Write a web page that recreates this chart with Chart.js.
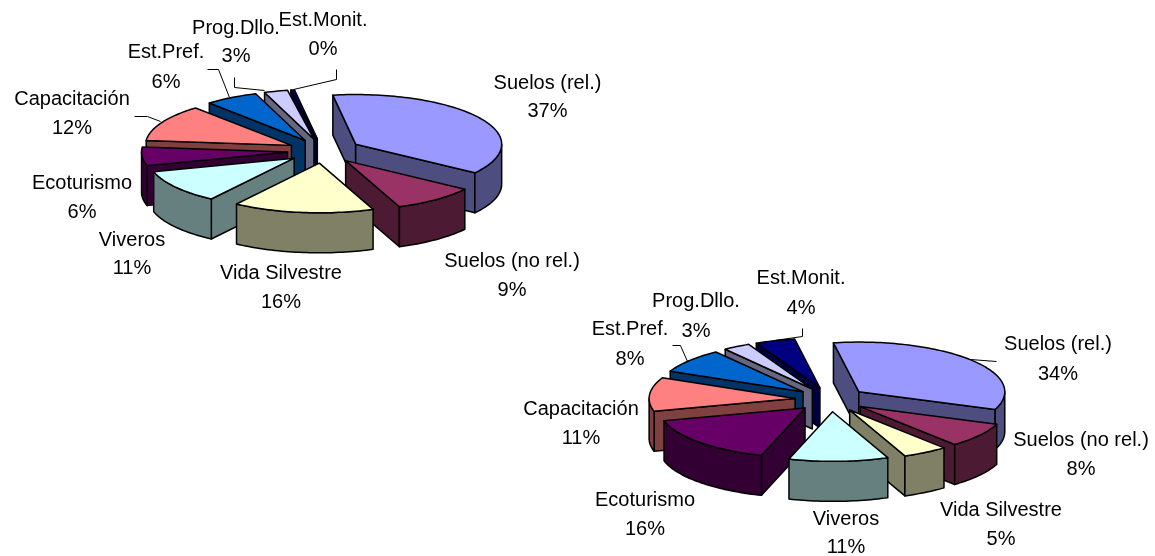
<!DOCTYPE html>
<html>
<head>
<meta charset="utf-8">
<style>
html,body{margin:0;padding:0;background:#fff;width:1155px;height:556px;overflow:hidden}
canvas{position:absolute;left:0;top:0}
</style>
<script src="https://cdn.jsdelivr.net/npm/chart.js@4/dist/chart.umd.min.js"></script>
</head>
<body>
<canvas id="a" width="1155" height="556"></canvas>
<canvas id="b" width="1155" height="556"></canvas>
<script>
const categories = ["Suelos (rel.)","Suelos (no rel.)","Vida Silvestre","Viveros","Ecoturismo","Capacitación","Est.Pref.","Prog.Dllo.","Est.Monit."];
const valuesLeft  = [37.3,9.2,15.6,11,6,12,5.9,2.6,0.4];
const valuesRight = [33.6,8,5,11,16,11,8,3,4.4];
const topColors  = ["#9999FF","#993366","#FFFFCC","#CCFFFF","#660066","#FF8080","#0066CC","#CCCCFF","#000080"];
const sideColors = ["#4D4D80","#4D1A33","#808066","#668080","#330033","#804040","#003366","#666680","#000040"];

// label centres [x, first line y, second line y], same order as categories
const labelsLeft  = [[547.5,83,111],[512,261,290],[281,273,302],[132,240,268],[82,183,212],[72,99,128],[166,52,82],[236,28,56],[323,20,49]];
const labelsRight = [[1058,344,374],[1081,440,469],[1001,510,539],[846,519,547],[645,500,529],[581,409,438],[630,329,359],[696,301,331],[801,278,308]];
const leadersLeft  = [[[207,69],[218,69],[229,97]],[[134,116],[147,116],[160,121]],[[234,77],[234,87],[264,90]],[[336,69],[336,79],[293,89]]];
const leadersRight = [[[802,328],[802,336],[774,340]],[[672,345],[680,345],[687,361]],[[996,361],[970,359]]];

const SQUASH = 0.34, DEPTH = 40, RADIUS = 146;
const FONT = '20px "Liberation Sans", Arial, sans-serif';

function pie3d(labelPos, leaders){
  return {
    id:'pie3d',
    beforeDatasetDraw(chart, args){
      const ctx = chart.ctx;
      const arcs = chart.getDatasetMeta(args.index).data.map((arc,i)=>({arc,i}));
      const midOf = a => (a.startAngle+a.endAngle)/2;
      arcs.sort((p,q)=>Math.sin(midOf(p.arc))-Math.sin(midOf(q.arc)));
      ctx.save();
      ctx.lineWidth = 1.5;
      ctx.lineJoin = 'round';
      ctx.strokeStyle = '#000';
      for(const {arc,i} of arcs){
        const {x,y,startAngle:a0,endAngle:a1,outerRadius:R} = arc;
        const mid = midOf(arc), off = arc.options.offset;
        const ax = x+Math.cos(mid)*off, ay = y+Math.sin(mid)*off*SQUASH;
        const rim = (a,z)=>[ax+Math.cos(a)*R, ay+Math.sin(a)*R*SQUASH+z];
        const poly = (pts,fill)=>{
          ctx.beginPath();
          pts.forEach((p,k)=>k?ctx.lineTo(p[0],p[1]):ctx.moveTo(p[0],p[1]));
          ctx.closePath();
          ctx.fillStyle = fill; ctx.fill(); ctx.stroke();
        };
        const side = sideColors[i], top = topColors[i];
        const wall = a => poly([[ax,ay],rim(a,0),rim(a,DEPTH),[ax,ay+DEPTH]],side);
        if(Math.cos(a0)<0) wall(a0);
        if(Math.cos(a1)>0) wall(a1);
        // outer wall, front half only
        for(const base of [-2*Math.PI,0,2*Math.PI]){
          const s = Math.max(a0,base), e = Math.min(a1,base+Math.PI);
          if(e>s){
            const up=[],down=[],n=Math.max(2,Math.ceil((e-s)*40));
            for(let k=0;k<=n;k++){const t=s+(e-s)*k/n; up.push(rim(t,0)); down.unshift(rim(t,DEPTH));}
            poly(up.concat(down),side);
          }
        }
        const face=[[ax,ay]], n=Math.max(2,Math.ceil((a1-a0)*40));
        for(let k=0;k<=n;k++) face.push(rim(a0+(a1-a0)*k/n,0));
        poly(face,top);
      }
      ctx.restore();
      return false;
    },
    afterDatasetsDraw(chart){
      const ctx = chart.ctx, data = chart.data.datasets[0].data;
      const total = data.reduce((s,v)=>s+v,0);
      ctx.save();
      ctx.strokeStyle='#000'; ctx.lineWidth=1;
      for(const l of leaders){
        ctx.beginPath();
        l.forEach((p,k)=>k?ctx.lineTo(p[0]+.5,p[1]+.5):ctx.moveTo(p[0]+.5,p[1]+.5));
        ctx.stroke();
      }
      ctx.font=FONT; ctx.fillStyle='#000'; ctx.textAlign='center'; ctx.textBaseline='middle';
      chart.data.labels.forEach((t,i)=>{
        const [px,y1,y2]=labelPos[i];
        ctx.fillText(t,px,y1);
        ctx.fillText(Math.round(data[i]/total*100)+'%',px,y2);
      });
      ctx.restore();
    }
  };
}

function makePie(id, values, cx, cy, rotation, offsets, labelPos, leaders){
  const W=1155,H=556;
  new Chart(document.getElementById(id),{
    type:'pie',
    data:{labels:categories,datasets:[{data:values,backgroundColor:topColors,offset:offsets,borderWidth:0}]},
    options:{
      responsive:false,animation:false,events:[],
      radius:RADIUS,rotation:rotation,
      layout:{padding:{left:Math.max(0,2*cx-W),right:Math.max(0,W-2*cx),top:Math.max(0,2*cy-H),bottom:Math.max(0,H-2*cy)}},
      plugins:{legend:{display:false},tooltip:{enabled:false},title:{display:false}}
    },
    plugins:[pie3d(labelPos,leaders)]
  });
}
const offsetsLeft  = [38,36,36,36,36,36,36,36,36];
const offsetsRight = [36,36,36,36,36,36,36,36,36];
makePie('a',valuesLeft,323.4,151,-9,offsetsLeft,labelsLeft,leadersLeft);
makePie('b',valuesRight,831,399.5,-10,offsetsRight,labelsRight,leadersRight);
</script>
</body>
</html>
